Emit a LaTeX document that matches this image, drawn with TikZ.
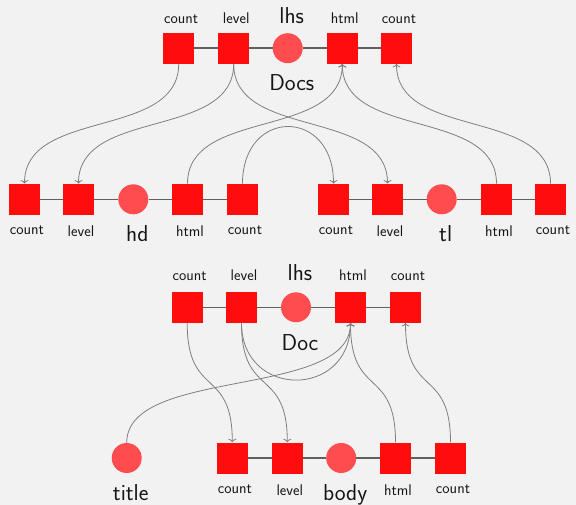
\documentclass[tikz,border=0pt]{standalone}
\usepackage{fontspec}
\usetikzlibrary{arrows.meta}
\definecolor{sqred}{HTML}{FF0D0D}
\definecolor{cired}{HTML}{FF4D4F}
\definecolor{linkgray}{HTML}{606060}
\definecolor{curvegray}{HTML}{7F7F7F}
\definecolor{bgcol}{HTML}{F2F2F2}
\definecolor{txt}{HTML}{151515}
\begin{document}
\begin{tikzpicture}[x=1pt,y=-1pt,
  sq/.style={rectangle,fill=sqred,minimum size=31pt,inner sep=0pt},
  ci/.style={circle,fill=cired,minimum size=30pt,inner sep=0pt},
  lk/.style={draw=linkgray,line width=1.5pt},
  cv/.style={draw=curvegray,line width=0.8pt,-{To[length=3.5pt,width=8pt]}},
  sml/.style={font=\sffamily\fontsize{15.5}{18}\selectfont,text=txt,inner sep=0pt,xshift=2.5pt},
  big/.style={font=\sffamily\fontsize{23}{26}\selectfont,text=txt,inner sep=0pt,xshift=4pt}
]
\fill[bgcol] (0,0) rectangle (576,505);
\useasboundingbox (0,0) rectangle (576,505);

% Row A (Docs)
\node[sq] (A1) at (178.7,48.2) {};
\node[sq] (A2) at (233.7,48.2) {};
\node[ci] (Ac) at (287.7,48.2) {};
\node[sq] (A4) at (342.3,48.2) {};
\node[sq] (A5) at (396.5,48.2) {};
\node[sml,anchor=base] (lA1) at (178.7,23.3) {count};
\node[sml,anchor=base] (lA2) at (233.7,23.3) {level};
\node[big,anchor=base] (lAc) at (287.7,23.3) {lhs};
\node[sml,anchor=base] (lA4) at (342.3,23.3) {html};
\node[sml,anchor=base] (lA5) at (396.5,23.3) {count};
\node[big,anchor=base] (nA) at (287.7,90.7) {Docs};

% Row B left (hd)
\node[sq] (L1) at (24.5,199.3) {};
\node[sq] (L2) at (78.5,199.3) {};
\node[ci] (Lc) at (133.3,199.3) {};
\node[sq] (L4) at (187.5,199.3) {};
\node[sq] (L5) at (242.5,199.3) {};
\node[sml,anchor=north] (lL1) at (24.5,225.6) {count};
\node[sml,anchor=north] (lL2) at (78.5,225.6) {level};
\node[big,anchor=north] (lLc) at (133.3,225.6) {hd};
\node[sml,anchor=north] (lL4) at (187.5,225.6) {html};
\node[sml,anchor=north] (lL5) at (242.5,225.6) {count};

% Row B right (tl)
\node[sq] (R1) at (333.5,199.3) {};
\node[sq] (R2) at (387.5,199.3) {};
\node[ci] (Rc) at (441.7,199.3) {};
\node[sq] (R4) at (496.5,199.3) {};
\node[sq] (R5) at (550.5,199.3) {};
\node[sml,anchor=north] (lR1) at (333.5,225.6) {count};
\node[sml,anchor=north] (lR2) at (387.5,225.6) {level};
\node[big,anchor=north] (lRc) at (441.7,225.6) {tl};
\node[sml,anchor=north] (lR4) at (496.5,225.6) {html};
\node[sml,anchor=north] (lR5) at (550.5,225.6) {count};

% Row C (Doc)
\node[sq] (C1) at (187.2,307.3) {};
\node[sq] (C2) at (241.5,307.3) {};
\node[ci] (Cc) at (296,307.3) {};
\node[sq] (C4) at (350.5,307.3) {};
\node[sq] (C5) at (405.5,307.3) {};
\node[sml,anchor=base] (lC1) at (187.2,281) {count};
\node[sml,anchor=base] (lC2) at (241.5,281) {level};
\node[big,anchor=base] (lCc) at (296,281) {lhs};
\node[sml,anchor=base] (lC4) at (350.5,281) {html};
\node[sml,anchor=base] (lC5) at (405.5,281) {count};
\node[big,anchor=base] (nC) at (296,350) {Doc};

% Row D (title, body)
\node[ci] (T) at (126.7,458) {};
\node[big,anchor=north] (lT) at (126.7,484.5) {title};
\node[sq] (D1) at (232.3,458) {};
\node[sq] (D2) at (287.3,458) {};
\node[ci] (Dc) at (341.2,458) {};
\node[sq] (D4) at (395.5,458) {};
\node[sq] (D5) at (450.5,458) {};
\node[sml,anchor=north] (lD1) at (232.3,484.5) {count};
\node[sml,anchor=north] (lD2) at (287.3,484.5) {level};
\node[big,anchor=north] (lDc) at (341.2,484.5) {body};
\node[sml,anchor=north] (lD4) at (395.5,484.5) {html};
\node[sml,anchor=north] (lD5) at (450.5,484.5) {count};

% links
\draw[lk] (A1) -- (A2) -- (Ac) -- (A4) -- (A5);
\draw[lk] (L1) -- (L2) -- (Lc) -- (L4) -- (L5);
\draw[lk] (R1) -- (R2) -- (Rc) -- (R4) -- (R5);
\draw[lk] (C1) -- (C2) -- (Cc) -- (C4) -- (C5);
\draw[lk] (D1) -- (D2) -- (Dc) -- (D4) -- (D5);

% curves top
\draw[cv] (A1.south) .. controls +(0,76) and +(0,-76) .. (L1.north);
\draw[cv] (A2.south) .. controls +(0,76) and +(0,-76) .. (L2.north);
\draw[cv] (A2.south) .. controls +(0,76) and +(0,-76) .. (R2.north);
\draw[cv] (L4.north) .. controls +(0,-76) and +(0,76) .. (A4.south);
\draw[cv] (L5.north) .. controls +(0,-76) and +(0,-76) .. (R1.north);
\draw[cv] (R4.north) .. controls +(0,-76) and +(0,76) .. (A4.south);
\draw[cv] (R5.north) .. controls +(0,-76) and +(0,76) .. (A5.south);

% curves bottom
\draw[cv] (C1.south) .. controls +(0,76) and +(0,-76) .. (D1.north);
\draw[cv] (C2.south) .. controls +(0,76) and +(0,-76) .. (D2.north);
\draw[cv] (C2.south) .. controls +(0,76) and +(0,76) .. (C4.south);
\draw[cv] (T.north) .. controls +(0,-76) and +(0,76) .. (C4.south);
\draw[cv] (D4.north) .. controls +(0,-76) and +(0,76) .. (C4.south);
\draw[cv] (D5.north) .. controls +(0,-76) and +(0,76) .. (C5.south);
\end{tikzpicture}
\end{document}
